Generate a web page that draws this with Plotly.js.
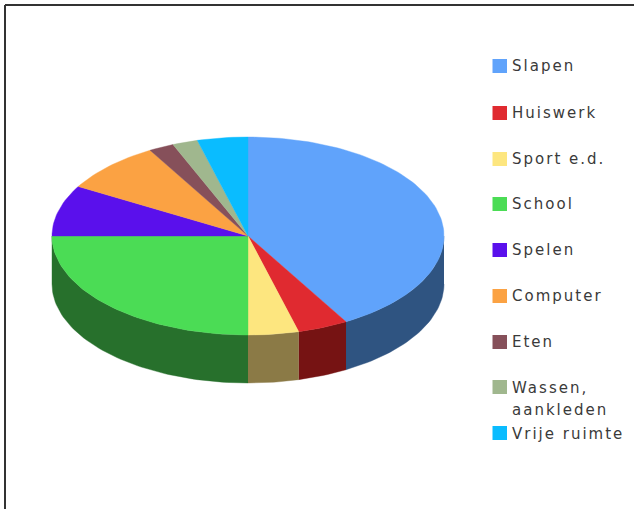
<!DOCTYPE html>
<html>
<head>
<meta charset="utf-8">
<script src="https://cdn.plot.ly/plotly-3.0.1.min.js"></script>
<style>
  html, body { margin: 0; padding: 0; background: #fff; overflow: hidden; }
  #chart { width: 634px; height: 509px; }
  .annotation-text { letter-spacing: 2px; }
</style>
</head>
<body>
<div id="chart"></div>
<script>
// Hours per day, going clockwise from twelve o'clock
const categories = ['Slapen', 'Huiswerk', 'Sport e.d.', 'School', 'Spelen', 'Computer', 'Eten', 'Wassen, aankleden', 'Vrije ruimte'];
const hours = [10, 1, 1, 6, 2, 2, 0.5, 0.5, 1];
const topColors = ['#60a3fb', '#e02a30', '#fde67f', '#4bdc55', '#5a10ec', '#fba243', '#86505a', '#a0b78e', '#0abcff'];
const sideColors = ['#2f5481', '#761313', '#8b7a46', '#27702c', '#2d0876', '#7d5121', '#43282d', '#505c47', '#055e80'];
const legendCenters = [66, 113, 159, 204, 250, 296, 342, 387, 433];
// Legend text rows, each with the pixel height it sits at
const legendRows = [
  ['Slapen', 66], ['Huiswerk', 113], ['Sport e.d.', 159], ['School', 204], ['Spelen', 250],
  ['Computer', 296], ['Eten', 342], ['Wassen,', 388], ['aankleden', 410], ['Vrije ruimte', 434]
];

const W = 634, H = 509;
const cx = 248, cy = 236, rx = 196, ry = 99, depth = 48;

// One data unit equals one pie radius on each axis, which squashes the disc into an ellipse
const xRange = [-cx / rx, (W - cx) / rx];
const yRange = [-(H - cy) / ry, cy / ry];
const drop = depth / ry;

const total = hours.reduce((a, b) => a + b, 0);
const rad = d => d * Math.PI / 180;

function arc(from, to, yOffset) {
  const n = Math.max(2, Math.ceil(Math.abs(to - from) / 1.5));
  const xs = [], ys = [];
  for (let i = 0; i <= n; i++) {
    const t = rad(from + (to - from) * i / n);
    xs.push(Math.sin(t));
    ys.push(Math.cos(t) + yOffset);
  }
  return [xs, ys];
}

const sides = [], tops = [];
let start = 0;
hours.forEach((h, i) => {
  const end = start + h / total * 360;
  const common = { type: 'scatter', mode: 'lines', fill: 'toself', showlegend: false, name: categories[i], hoverinfo: 'name' };

  // Rim wall, only on the part of the slice facing the viewer
  const a = Math.max(start, 90), b = Math.min(end, 270);
  if (a < b) {
    const [ux, uy] = arc(a, b, 0);
    const [lx, ly] = arc(b, a, -drop);
    sides.push(Object.assign({}, common, {
      x: ux.concat(lx), y: uy.concat(ly),
      fillcolor: sideColors[i], line: { color: sideColors[i], width: 0.4 }
    }));
  }

  const [tx, ty] = arc(start, end, 0);
  tops.push(Object.assign({}, common, {
    x: [0].concat(tx, [0]), y: [0].concat(ty, [0]),
    fillcolor: topColors[i], line: { color: topColors[i], width: 0.4 }
  }));
  start = end;
});

// Legend with its own uneven row spacing
const px = v => v / W, py = v => 1 - v / H;
const shapes = categories.map((c, i) => ({
  type: 'rect', xref: 'paper', yref: 'paper', layer: 'above',
  x0: px(492.5), x1: px(507), y0: py(legendCenters[i] - 7), y1: py(legendCenters[i] + 7),
  fillcolor: topColors[i], line: { width: 0 }
}));
const frame = { color: '#333333', width: 2 };
shapes.push(
  { type: 'line', xref: 'paper', yref: 'paper', x0: px(5), x1: px(5), y0: py(5), y1: 0, line: frame },
  { type: 'line', xref: 'paper', yref: 'paper', x0: px(5), x1: 1, y0: py(5), y1: py(5), line: frame }
);

const annotations = legendRows.map(([label, y]) => ({
  xref: 'paper', yref: 'paper', x: px(509.5), y: py(y),
  xanchor: 'left', yanchor: 'middle', align: 'left', showarrow: false,
  text: label, font: { family: 'DejaVu Sans', size: 15, color: '#3a3a3a' }
}));

Plotly.newPlot('chart', sides.concat(tops), {
  width: W, height: H,
  margin: { l: 0, r: 0, t: 0, b: 0 },
  paper_bgcolor: '#ffffff', plot_bgcolor: '#ffffff',
  xaxis: { range: xRange, visible: false, fixedrange: true },
  yaxis: { range: yRange, visible: false, fixedrange: true },
  shapes, annotations
}, { displayModeBar: false, staticPlot: true });
</script>
</body>
</html>
